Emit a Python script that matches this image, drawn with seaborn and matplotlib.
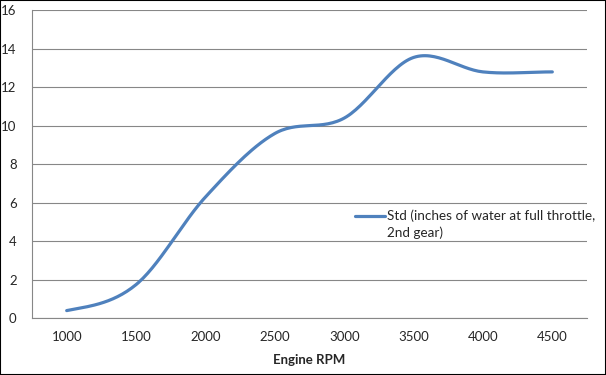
import numpy as np
import pandas as pd
import seaborn as sns
import matplotlib.pyplot as plt
import matplotlib.transforms as mtransforms
from matplotlib.patches import Rectangle

# data
rpm = ['1000', '1500', '2000', '2500', '3000', '3500', '4000', '4500']
pressure = [0.4, 1.75, 6.3, 9.6, 10.4, 13.55, 12.8, 12.8]
series_name = 'Std (inches of water at full throttle,\n2nd gear)'

# Excel-style smoothed line (Catmull-Rom through the data points)
def smooth(y, steps=30):
    p = np.concatenate([[y[0]], y, [y[-1]]])
    xs, ys = [], []
    for i in range(1, len(p) - 2):
        p0, p1, p2, p3 = p[i - 1], p[i], p[i + 1], p[i + 2]
        t = np.linspace(0, 1, steps, endpoint=False)
        v = 0.5 * (2 * p1 + (p2 - p0) * t + (2 * p0 - 5 * p1 + 4 * p2 - p3) * t ** 2
                   + (3 * p1 - p0 - 3 * p2 + p3) * t ** 3)
        xs.extend(i - 1 + t)
        ys.extend(v)
    xs.append(len(y) - 1)
    ys.append(y[-1])
    return np.array(xs), np.array(ys)

sx, sy = smooth(np.array(pressure, dtype=float))
df = pd.DataFrame({'x': sx, 'y': sy, 'series': series_name})

sns.set_style('white')
plt.rcParams['font.family'] = ['Lato', 'DejaVu Sans']

fig = plt.figure(figsize=(6.06, 3.75), dpi=100)
ax = fig.add_axes([32 / 606, 1 - 318.3 / 375, 555 / 606, 308 / 375])

sns.lineplot(data=df, x='x', y='y', hue='series', palette=['#4F81BD'],
             linewidth=2.3, ax=ax, sort=False)

ax.set_xlim(-0.5, len(rpm) - 0.5)
ax.set_ylim(0, 16)
ax.set_yticks(range(0, 17, 2))
ax.grid(axis='y', color='#878787', linewidth=0.8)
ax.set_axisbelow(True)

# category axis: tick marks between categories, labels at centres
ax.set_xticks(np.arange(-0.5, len(rpm), 1))
ax.set_xticklabels([])
ax.set_xticks(range(len(rpm)), minor=True)
ax.set_xticklabels(rpm, minor=True)
ax.tick_params(axis='x', which='major', length=4, width=0.8, color='#878787', direction='out')
ax.tick_params(axis='x', which='minor', length=0, labelsize=9.5, pad=9)
ax.tick_params(axis='y', length=4, width=0.8, color='#878787', direction='out',
               labelsize=9.5, pad=7)

for s in ['top', 'right']:
    ax.spines[s].set_visible(False)
for s in ['left', 'bottom']:
    ax.spines[s].set_color('#878787')
    ax.spines[s].set_linewidth(0.8)

ax.set_ylabel('')
ax.set_xlabel('Engine RPM', fontsize=9.5, fontweight='bold', labelpad=8)

leg = ax.legend(loc='upper left', bbox_to_anchor=(355 / 606, 1 - 209 / 375),
                bbox_transform=fig.transFigure, frameon=False, fontsize=9.7,
                handlelength=2.2, handletextpad=0.15, borderaxespad=0, borderpad=0)
leg.get_texts()[0].set_linespacing(1.45)
hl = leg.get_lines()[0]
hl.set_linewidth(2.3)
# Excel puts the legend key level with the first text line
hl.set_transform(hl.get_transform() +
                 mtransforms.ScaledTranslation(0, 0.085, fig.dpi_scale_trans))

fig.patches.append(Rectangle((0, 0), 1, 1, transform=fig.transFigure, fill=False,
                             edgecolor='black', linewidth=1.5))

fig.savefig('out.png', dpi=100)
